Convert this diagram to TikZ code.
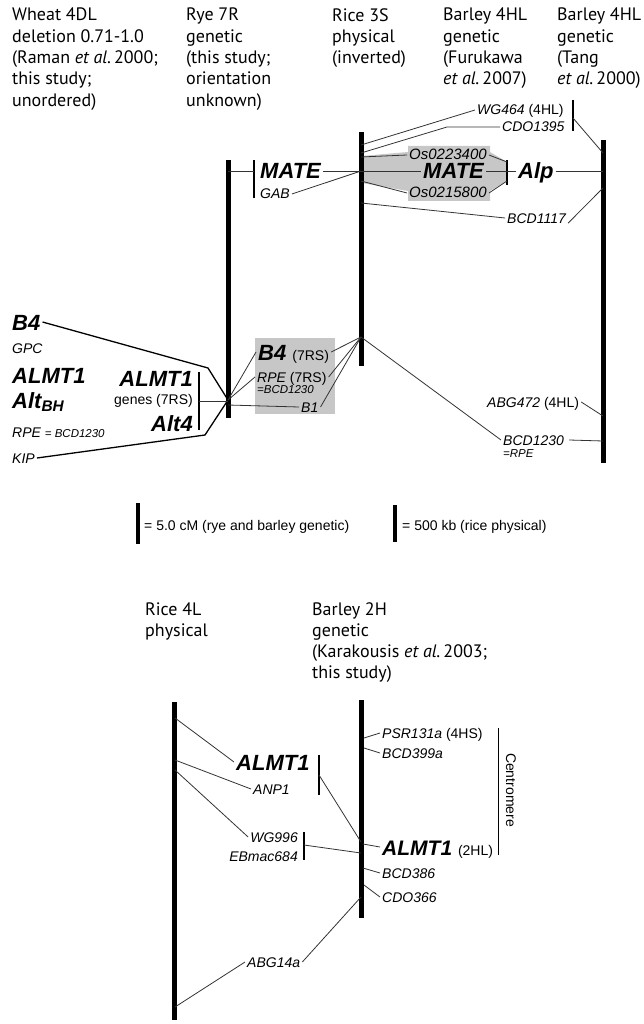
\documentclass[tikz,border=0pt]{standalone}
\usepackage{fontspec}
\setmainfont{Liberation Sans}
\newfontfamily\hdrfam{PT Sans}
\newcommand\labsize{\fontsize{14}{16}\selectfont}
\newcommand\smlsize{\fontsize{11.5}{13}\selectfont}
\begin{document}
\begin{tikzpicture}[x=1pt,y=-1pt,
  hdr/.style={font=\hdrfam\fontsize{18}{21.3}\selectfont, align=left, anchor=north west, inner sep=0},
  lab/.style={font=\labsize\itshape, inner xsep=2pt, inner ysep=0, text height=10pt, text depth=0pt},
  reg/.style={font=\labsize, inner xsep=2pt, inner ysep=0, text height=10pt, text depth=0pt},
  big/.style={font=\fontsize{22}{24}\selectfont\bfseries\itshape, inner xsep=2pt, inner ysep=0, text height=16pt, text depth=0pt},
  sml/.style={font=\smlsize\itshape, inner xsep=1pt, inner ysep=0, text height=8.2pt, text depth=0pt},
  chrom/.style={line width=5pt},
  scalebar/.style={line width=4pt},
  tickbar/.style={line width=1.2pt},
  con/.style={line width=0.8pt, black!80},
  bcon/.style={line width=1.3pt, black},
  shade/.style={fill=black!22}
  ]
\useasboundingbox (0,0) rectangle (643,1024);

% ---------- headers ----------
\node[hdr] (hW) at (12,8) {Wheat 4DL\\deletion 0.71-1.0\\(Raman \textit{et al.}\,2000;\\this study;\\unordered)};
\node[hdr] (hR) at (186,8) {Rye 7R\\genetic\\(this study;\\orientation\\unknown)};
\node[hdr] (hRi) at (332,8) {Rice 3S\\physical\\(inverted)};
\node[hdr] (hBF) at (443,8) {Barley 4HL\\genetic\\(Furukawa\\\textit{et al.}\,2007)};
\node[hdr] (hBT) at (557,8) {Barley 4HL\\genetic\\(Tang\\\textit{et al.}\,2000)};

% ---------- chromosome bars (top) ----------
\coordinate (ryeT) at (228,160); \coordinate (ryeB) at (228,418);
\coordinate (riT) at (361,132); \coordinate (riB) at (361,366);
\coordinate (btT) at (603,140); \coordinate (btB) at (603,463);

% grey shaded MATE region
\fill[shade] (362,156) -- (408,152) -- (408,146) -- (490,146) -- (490,152) -- (507,162)
  -- (507,181) -- (490,191) -- (490,201) -- (408,201) -- (408,191) -- (362,183) -- cycle;
\fill[shade] (255,338) rectangle (335,414);

\draw[chrom] (ryeT) -- (ryeB);
\draw[chrom] (riT) -- (riB);
\draw[chrom] (btT) -- (btB);

% ---------- Rye 7R labels ----------
\coordinate (ry1) at (228,171); \coordinate (tmA) at (254,160); \coordinate (tmB) at (254,198);
\coordinate (tm) at (254,171);
\draw[tickbar] (tmA) -- (tmB);
\draw[con] (ry1) -- (tm);
\node[big, anchor=west] (mate1) at (258,171) {MATE};
\node[lab, anchor=west] (gab) at (258,194) {GAB};
\coordinate (ri1) at (361,171);
\draw[con] (mate1.east) -- (ri1);
\draw[con] (gab.east) -- (ri1);

% ---------- Rice 3S right side ----------
\coordinate (ri0) at (361,145); \coordinate (ri0b) at (361,153);
\node[lab, anchor=west] (wg464) at (475,110) {WG464 {\upshape (4HL)}};
\node[lab, anchor=west] (cdo1395) at (500,127) {CDO1395};
\coordinate (cdoK) at (447,127);
\draw[con] (ri0) -- (wg464.west);
\draw[con] (ri0b) -- (cdoK) -- (cdo1395.west);
\coordinate (twA) at (573,100); \coordinate (twB) at (573,131); \coordinate (tw) at (573,118);
\coordinate (bt1) at (603,153);
\draw[tickbar] (twA) -- (twB);
\draw[con] (tw) -- (bt1);

\coordinate (riA) at (361,157); \coordinate (riC) at (361,181);
\node[lab, anchor=west, font=\fontsize{15}{17}\selectfont\itshape] (os1) at (407,155) {Os0223400};
\node[lab, anchor=west, font=\fontsize{15}{17}\selectfont\itshape] (os2) at (407,193) {Os0215800};
\node[big, anchor=west] (mate2) at (421,171) {MATE};
\coordinate (taA) at (507,160); \coordinate (taB) at (507,185); \coordinate (ta) at (507,171);
\coordinate (ta1) at (507,162); \coordinate (ta2) at (507,181);
\draw[tickbar] (taA) -- (taB);
\draw[con] (riA) -- (os1.west);
\draw[con] (riC) -- (os2.west);
\draw[con] (ri1) -- (mate2.west);
\draw[con] (mate2.east) -- (ta);
\draw[con] (os1.east) -- (ta1);
\draw[con] (os2.east) -- (ta2);
\node[big, anchor=west] (alp) at (516,171) {Alp};
\coordinate (bt2) at (603,171);
\draw[con] (ta) -- (alp.west);
\draw[con] (alp.east) -- (bt2);

\coordinate (ri3) at (361,203); \coordinate (bt3) at (603,188);
\node[lab, anchor=west] (bcd1117) at (505,218) {BCD1117};
\draw[con] (ri3) -- (bcd1117.west);
\draw[con] (bcd1117.south east) -- (bt3);

% ---------- Wheat 4DL ----------
\coordinate (ry2) at (228,400); \coordinate (ry3) at (228,405);
\coordinate (b4K) at (208,368); \coordinate (kipK) at (205,435);
\node[big, anchor=west] (b4) at (10,322) {B4};
\node[lab, anchor=west] (gpc) at (10,348) {GPC};
\node[big, anchor=west] (almt1a) at (10,375) {ALMT1};
\node[big, anchor=west] (altbh) at (10,400) {Alt\textsubscript{BH}};
\node[lab, anchor=west] (rpe1) at (10,432) {RPE {\smlsize = BCD1230}};
\node[lab, anchor=west] (kip) at (10,458) {KIP};
\draw[bcon] (b4.east) -- (b4K) -- (ry2);
\draw[bcon] (kip.east) -- (kipK) -- (ry2);

% ---------- Rye middle labels ----------
\node[big, anchor=east] (almt1b) at (195,378) {ALMT1};
\node[reg, anchor=east] (genes) at (195,399) {genes (7RS)};
\node[big, anchor=east] (alt4) at (195,423) {Alt4};
\coordinate (tgA) at (199,372); \coordinate (tgB) at (199,430); \coordinate (tg) at (199,401);
\coordinate (ry4) at (228,401);
\draw[tickbar] (tgA) -- (tgB);
\draw[con] (tg) -- (ry4);

\node[big, anchor=west] (b4r) at (256,352) {B4 {\mdseries\upshape\labsize (7RS)}};
\node[lab, anchor=west] (rper) at (255,377) {RPE {\upshape (7RS)}};
\node[sml, anchor=west] (bcdr) at (256,389) {=BCD1230};
\node[lab, anchor=west] (b1) at (299,407) {B1};
\coordinate (ri2) at (361,337);
\draw[con] (ry2) -- (b4r.west);
\draw[con] (ry2) -- (rper.west);
\draw[con] (ry3) -- (b1.west);
\draw[con] (b4r.east) -- (ri2);
\draw[con] (rper.east) -- (ri2);
\draw[con] (b1.east) -- (ri2);

% ---------- Barley (Tang) lower ----------
\node[lab, anchor=west] (abg472) at (485,402) {ABG472 {\upshape (4HL)}};
\coordinate (bt4) at (603,416);
\draw[con] (abg472.east) -- (bt4);
\node[lab, anchor=west] (bcd1230) at (501,440) {BCD1230};
\node[sml, anchor=west] (eqrpe) at (502,453) {=RPE};
\coordinate (bt5) at (603,441);
\draw[con] (ri2) -- (bcd1230.west);
\draw[con] ([xshift=3pt]bcd1230.east) -- (bt5);

% ---------- scale bars ----------
\coordinate (s1A) at (138,503); \coordinate (s1B) at (138,544);
\coordinate (s2A) at (395,505); \coordinate (s2B) at (395,542);
\draw[scalebar] (s1A) -- (s1B);
\draw[scalebar] (s2A) -- (s2B);
\node[reg, anchor=west] (sc1) at (142,525) {= 5.0 cM (rye and barley genetic)};
\node[reg, anchor=west] (sc2) at (400,525) {= 500 kb (rice physical)};

% ---------- bottom headers ----------
\node[hdr] (hR4) at (145,602) {Rice 4L\\physical};
\node[hdr] (hB2) at (312,602) {Barley 2H\\genetic\\(Karakousis \textit{et al.}\,2003;\\this study)};

% ---------- bottom bars ----------
\coordinate (r4T) at (174,702); \coordinate (r4B) at (174,1020);
\coordinate (b2T) at (361,700); \coordinate (b2B) at (361,918);
\draw[chrom] (r4T) -- (r4B);
\draw[chrom] (b2T) -- (b2B);

\node[lab, anchor=west] (psr) at (380,733) {PSR131a {\upshape (4HS)}};
\node[lab, anchor=west] (bcd399) at (380,753) {BCD399a};
\coordinate (b2a) at (364,738); \coordinate (b2b) at (364,748);
\draw[con] (b2a) -- (psr.west);
\draw[con] (b2b) -- (bcd399.west);

\coordinate (cenA) at (498,728); \coordinate (cenB) at (498,855);
\draw[line width=1pt] (cenA) -- (cenB);
\node[reg, rotate=-90, anchor=center, text height=10pt] (cen) at (511,790) {Centromere};

\node[big, anchor=west] (almt1c) at (234,762) {ALMT1};
\node[lab, anchor=west] (anp1) at (251,789) {ANP1};
\node[lab, anchor=east] (wg996) at (300,837) {WG996};
\node[lab, anchor=east] (ebmac) at (300,856) {EBmac684};
\coordinate (r4a) at (175,718); \coordinate (r4b) at (175,760); \coordinate (r4c) at (175,770);
\draw[con] (r4a) -- (almt1c.west);
\draw[con] (r4b) -- (anp1.west);
\draw[con] (r4c) -- (wg996.west);
\coordinate (t1A) at (319,755); \coordinate (t1B) at (319,795); \coordinate (t1) at (319,775);
\coordinate (t2A) at (304,832); \coordinate (t2B) at (304,860); \coordinate (t2) at (304,845);
\draw[tickbar] (t1A) -- (t1B);
\draw[tickbar] (t2A) -- (t2B);
\coordinate (b2c) at (361,842); \coordinate (b2d) at (361,853);
\draw[con] (t1) -- (b2c);
\draw[con] (t2) -- (b2d);

\node[big, anchor=west, font=\fontsize{21}{23}\selectfont\bfseries\itshape] (almt1d) at (380,847) {ALMT1 {\mdseries\upshape\labsize (2HL)}};
\coordinate (b2e) at (363,844);
\draw[con] (b2e) -- (almt1d.west);
\node[lab, anchor=west] (bcd386) at (380,873) {BCD386};
\node[lab, anchor=west] (cdo366) at (380,897) {CDO366};
\coordinate (b2f) at (363,868); \coordinate (b2g) at (364,885);
\draw[con] (b2f) -- (bcd386.west);
\draw[con] (b2g) -- (cdo366.west);

\node[lab, anchor=west] (abg14) at (245,962) {ABG14a};
\coordinate (r4d) at (175,1007); \coordinate (b2h) at (361,897);
\draw[con] (r4d) -- (abg14.west);
\draw[con] (abg14.east) -- (b2h);
\end{tikzpicture}
\end{document}
